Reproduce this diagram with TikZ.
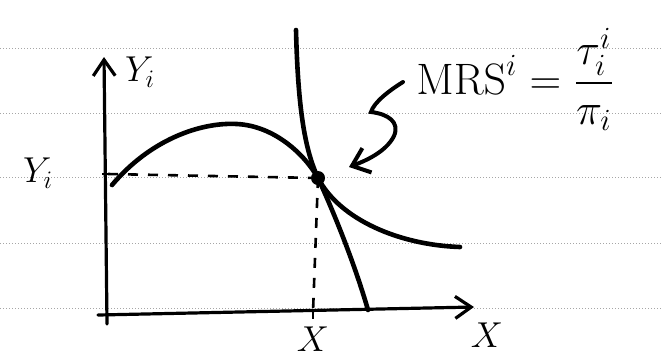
\RequirePackage{fix-cm}
\documentclass[tikz,border=0pt]{standalone}
\usepackage{amsmath}
\usetikzlibrary{arrows.meta,positioning}
\tikzset{
	axis/.style={line width=1.6pt, line cap=round, -{Straight Barb[length=8pt,width=11pt,line width=1.6pt]}},
	curve/.style={line width=2.3pt, line cap=round},
	guide/.style={line width=1.3pt, dash pattern=on 5pt off 5pt},
	pointer/.style={line width=2pt, line cap=round, -{Straight Barb[length=8pt,width=13pt,line width=2pt]}},
	ruled/.style={black!35, line width=0.5pt, densely dotted},
	tick/.style={line width=1.4pt},
	lbl/.style={font=\fontsize{18}{20}\selectfont, inner sep=1pt}
}

\begin{document}
\begin{tikzpicture}[x=0.5pt, y=-0.5pt]
	\useasboundingbox (0,0) rectangle (662,360);
	% lined paper
	\foreach \ly in {48,113,177,243,308}
		\draw[ruled] (0,\ly) -- (662,\ly);
	% axes
	\coordinate (ybot) at (107,324);
	\coordinate (ytip) at (104,57);
	\coordinate (xleft) at (98,315);
	\coordinate (xtip) at (474,307);
	\draw[axis] (ybot) -- (ytip);
	\draw[axis] (xleft) -- (xtip);
	% equilibrium point and its projections
	\coordinate (E) at (318,178);
	\coordinate (yt) at (108,174);
	\coordinate (xt) at (313,312);
	\draw[tick] (102,174) -- (114,174);
	\draw[tick] (313,309) -- (313,319);
	\draw[guide] (yt) -- (E);
	\draw[guide] (E) -- (xt);
	% production frontier
	\coordinate (ppfA) at (112,185);
	\coordinate (ppfB) at (368,310);
	\draw[curve] (ppfA) .. controls (150,140) and (200,122) .. (237,124)
		.. controls (275,126) and (305,155) .. (E)
		.. controls (335,215) and (355,265) .. (ppfB);
	% indifference curve
	\coordinate (icA) at (296,30);
	\coordinate (icB) at (460,247);
	\draw[curve] (icA) .. controls (298,110) and (305,150) .. (E)
		.. controls (340,220) and (400,245) .. (icB);
	\node[circle, fill, inner sep=0pt, minimum size=7pt] (dot) at (E) {};
	% labels
	\node[lbl] (ylab) at (140,72) {$Y_i$};
	\node[lbl] (yilab) at (38,173) {$Y_i$};
	\node[lbl, below=6pt of xt] (xstar) {$X$};
	\node[lbl] (xlab) at (487,335) {$X$};
	\node[lbl, font=\fontsize{22}{26}\selectfont, anchor=base west] (mrs) at (414,94)
		{$\mathrm{MRS}^i = \dfrac{\tau^i_i}{\pi_i}$};
	% pointer to the tangency
	\coordinate (sA) at (403,82);
	\coordinate (sB) at (349,167);
	\draw[pointer] (sA) .. controls (390,90) and (374,102) .. (371,112)
		.. controls (388,114) and (400,122) .. (394,136)
		.. controls (386,152) and (365,161) .. (sB);
\end{tikzpicture}
\end{document}
